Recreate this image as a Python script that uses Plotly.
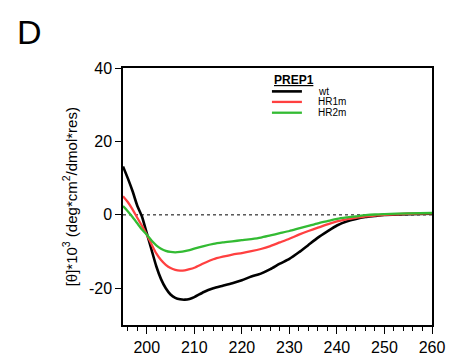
import plotly.graph_objects as go

# wavelength (nm) and ellipticity values
wl = [195, 196, 197, 198, 199, 200, 201, 202, 203, 204, 205, 206, 207, 208, 209, 210,
      212, 214, 216, 218, 220, 222, 224, 226, 228, 230, 232, 234, 236, 238, 240,
      242, 244, 246, 248, 250, 255, 260]

wt = [13.2, 10.0, 6.5, 2.5, -0.5, -5.0, -9.5, -14.0, -17.5, -20.0, -21.7, -22.6, -23.0, -23.1, -22.9, -22.4,
      -21.0, -20.0, -19.3, -18.6, -17.8, -16.8, -16.0, -14.8, -13.3, -12.0, -10.2, -8.2, -6.2, -4.5, -2.9,
      -1.8, -1.1, -0.6, -0.3, 0.0, 0.2, 0.3]

hr1m = [5.1, 3.5, 1.5, -0.8, -3.0, -5.4, -8.0, -10.5, -12.3, -13.6, -14.5, -15.0, -15.2, -15.1, -14.8, -14.4,
        -13.2, -12.1, -11.4, -10.8, -10.4, -9.9, -9.3, -8.5, -7.5, -6.5, -5.4, -4.4, -3.5, -2.6, -1.8,
        -1.2, -0.8, -0.4, -0.2, 0.0, 0.3, 0.4]

hr2m = [2.4, 1.0, -0.6, -2.3, -4.0, -5.4, -7.0, -8.3, -9.2, -9.8, -10.1, -10.2, -10.1, -9.9, -9.6, -9.2,
        -8.5, -7.9, -7.5, -7.2, -6.9, -6.6, -6.2, -5.6, -5.0, -4.4, -3.7, -3.0, -2.3, -1.7, -1.1,
        -0.7, -0.4, -0.1, 0.1, 0.2, 0.4, 0.5]

series_names = ["wt", "HR1m", "HR2m"]
series_colors = ["#000000", "#ff4040", "#33bb33"]
series_values = [wt, hr1m, hr2m]

x_ticks = [200, 210, 220, 230, 240, 250, 260]
y_ticks = [-20, 0, 20, 40]
y_ticktext = ["-20", "0", "20", "40"]

FONT = "Liberation Sans, Arial, sans-serif"

fig = go.Figure()
for name, col, vals in zip(series_names, series_colors, series_values):
    fig.add_trace(go.Scatter(
        x=wl, y=vals, name=name, mode="lines", showlegend=False,
        line=dict(color=col, width=2.6 if name == "wt" else 2.3, shape="spline", smoothing=0.6),
    ))

fig.add_shape(type="line", xref="paper", yref="y", x0=0, x1=1, y0=0, y1=0,
              line=dict(color="black", width=1, dash="dot"), layer="below")

# hand-built legend (tight row spacing like the reference)
leg_x0, leg_x1, leg_tx = 0.482, 0.579, 0.625
leg_rows = [0.909, 0.868, 0.826]
annotations = [
    dict(text="D", xref="paper", yref="paper", x=-0.304, y=1.14, xanchor="center", yanchor="middle",
         showarrow=False, font=dict(size=34, family=FONT)),
    dict(text="[θ]*10<sup>3</sup> (deg*cm<sup>2</sup>/dmol*res)", xref="paper", yref="paper",
         x=-0.172, y=0.5, xanchor="center", yanchor="middle", textangle=-90,
         showarrow=False, font=dict(size=15, family=FONT)),
    dict(text="<b><u>PREP1</u></b>", xref="paper", yref="paper", x=leg_x0, y=0.953,
         xanchor="left", yanchor="middle", showarrow=False, font=dict(size=12, family=FONT)),
]
for name, col, yy in zip(series_names, series_colors, leg_rows):
    fig.add_shape(type="line", xref="paper", yref="paper", x0=leg_x0, x1=leg_x1, y0=yy, y1=yy,
                  line=dict(color=col, width=2.6 if name == "wt" else 2.3))
    annotations.append(dict(text=name, xref="paper", yref="paper", x=leg_tx, y=yy,
                            xanchor="left", yanchor="middle", showarrow=False,
                            font=dict(size=10, family=FONT)))

fig.update_layout(
    width=451, height=357,
    margin=dict(l=123, r=19, t=68, b=32, autoexpand=False),
    paper_bgcolor="white", plot_bgcolor="white",
    font=dict(family=FONT, size=16, color="black"),
    showlegend=False,
    xaxis=dict(
        range=[195, 260], tickvals=x_ticks, ticks="outside", ticklen=7, tickwidth=1.2,
        tickcolor="black", showline=True, linecolor="black", linewidth=1.5, mirror=True,
        showgrid=False, zeroline=False, automargin=False,
        minor=dict(dtick=2, tick0=200, ticks="outside", ticklen=4, tickcolor="black", tickwidth=1),
        tickfont=dict(size=16),
    ),
    yaxis=dict(
        range=[-30, 40], tickvals=y_ticks, ticktext=y_ticktext, ticks="outside", ticklen=6, tickwidth=1.2,
        tickcolor="black", showline=True, linecolor="black", linewidth=1.5, mirror=True,
        showgrid=False, zeroline=False, automargin=False, tickfont=dict(size=16),
    ),
    annotations=annotations,
)

fig.write_html("out.html")
